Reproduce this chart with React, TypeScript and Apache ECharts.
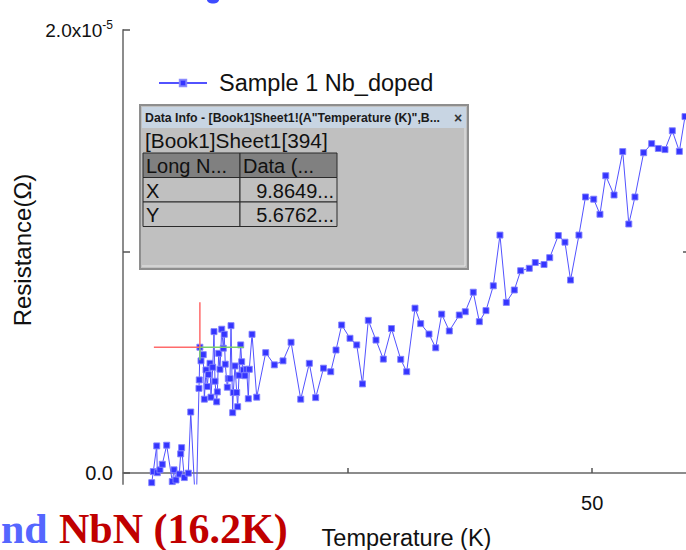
import React, { useEffect, useRef } from "react";
import * as echarts from "echarts";

// Temperature (K)
const temperatureK = [
  4.94, 5.1, 5.45, 5.51, 5.78, 6.02, 6.47, 7.04, 7.22, 7.42, 7.76, 7.9, 8.0, 8.27, 8.68, 8.93,
  9.47, 9.77, 9.8, 9.8649, 9.98, 10.21, 10.32, 10.49, 10.62, 10.73, 10.9, 11.0, 11.18, 11.31,
  11.41, 11.58, 11.65, 11.79, 11.92, 12.1, 12.26, 12.36, 12.46, 12.67, 12.77, 12.95, 13.05,
  13.22, 13.28, 13.46, 13.63, 13.73, 13.87, 14.04, 14.14, 14.31, 14.48, 14.65, 14.82, 14.92,
  15.2, 15.68, 16.6, 17.48, 18.37, 19.19, 20.18, 21.06, 21.71, 22.51, 23.25, 23.79, 24.37,
  25.22, 25.91, 26.5, 27.09, 27.88, 28.63, 29.46, 30.41, 31.02, 31.87, 32.45, 33.3, 33.99,
  34.6, 35.38, 36.4, 37.01, 37.83, 38.45, 39.13, 39.88, 40.56, 41.21, 42.03, 42.68, 43.56,
  44.17, 45.07, 45.65, 46.53, 47.21, 47.78, 48.64, 49.31, 50.15, 50.79, 51.38, 52.23, 53.12,
  53.74, 54.37, 55.26, 56.08, 56.76, 57.44, 58.19, 58.91, 59.49, 60.3,
];

// Resistance, in units of 1e-6 Ω
const resistanceMicroOhm = [
  -0.44, 0.06, 1.22, 0.01, 0.14, 0.39, 1.25, -0.39, 0.14, -0.32, -0.05, 0.86, 1.14, -0.21, -0.01, 2.75,
  -2.0, 3.82, 4.2, 5.6762, 5.06, 5.34, 3.33, 4.65, 3.9, 4.44, 4.95, 3.42, 4.77, 6.38,
  4.14, 3.21, 3.66, 5.4, 4.68, 6.49, 5.63, 6.26, 4.91, 3.87, 4.26, 4.26, 6.65,
  2.72, 3.63, 4.83, 3.63, 2.99, 4.41, 5.78, 5.02, 4.65, 4.39, 4.68, 3.35, 4.68,
  6.26, 3.42, 5.43, 4.88, 5.06, 5.9, 3.33, 4.95, 3.4, 4.73, 4.57, 5.55, 6.68,
  6.08, 5.78, 4.02, 6.89, 6.0, 5.14, 6.52, 5.13, 4.57, 7.44, 6.74, 6.27, 5.65,
  7.17, 6.41, 7.13, 7.28, 8.16, 6.83, 7.33, 8.45, 10.74, 7.7, 8.26, 9.13, 9.24,
  9.5, 9.41, 9.72, 10.72, 10.42, 8.71, 10.74, 12.46, 12.36, 11.68, 13.42, 12.55, 14.51,
  11.24, 12.46, 14.46, 14.87, 14.65, 14.6, 15.45, 14.52, 16.09, 16.7,
];

const seriesName = "Sample 1 Nb_doped";
const cursorPoint = [9.8649, 5.6762];
const cursorRow = 394;
const xTickValues = [25, 50];
const xLabelValues = [50];
const yTickValues = [0, 10, 20];
const yLabelValues = [0, 20];
const yRightTickValues = [10];

const FONT = "'Liberation Sans', Arial, sans-serif";
const SERIF = "'Liberation Serif', 'Times New Roman', serif";

export default function App() {
  const ref = useRef<HTMLDivElement>(null);

  useEffect(() => {
    if (!ref.current) return;
    const chart = echarts.init(ref.current, undefined, { renderer: "svg" });
    const data = temperatureK.map((t, i) => [t, resistanceMicroOhm[i]]);

    const baseOption: any = {
      animation: false,
      backgroundColor: "#ffffff",
      grid: {
        left: 123,
        top: 30,
        width: 567,
        height: 454,
        containLabel: false,
        outerBoundsMode: "none",
      },
      legend: {
        left: 153,
        top: 66,
        itemWidth: 48,
        itemHeight: 8,
        textStyle: { fontSize: 23.5, color: "#111", fontFamily: FONT, padding: [0, 0, 0, 7] },
        data: [seriesName],
      },
      xAxis: [
        {
          type: "value",
          position: "bottom",
          min: 2,
          max: 60,
          name: "Temperature (K)",
          nameLocation: "middle",
          nameGap: 42,
          nameTextStyle: { fontSize: 23.5, color: "#111", fontFamily: FONT },
          axisLine: { lineStyle: { color: "#333", width: 1.5 } },
          axisTick: { inside: true, length: 5, customValues: xTickValues, lineStyle: { color: "#555", width: 1.5 } },
          axisLabel: { customValues: xLabelValues, margin: 9, fontSize: 20, color: "#111", fontFamily: FONT },
          splitLine: { show: false },
        },
        {
          type: "value",
          position: "top",
          min: 2,
          max: 60,
          axisLine: { lineStyle: { color: "#8c8c8c", width: 2 } },
          axisTick: { show: false },
          axisLabel: { show: false },
          splitLine: { show: false },
        },
      ],
      yAxis: [
        {
          type: "value",
          position: "left",
          min: -0.5,
          max: 20,
          name: "Resistance(Ω)",
          nameLocation: "middle",
          nameGap: 86,
          nameTextStyle: { fontSize: 24, color: "#111", fontFamily: FONT, padding: [0, 0, 0, 14] },
          axisLine: { lineStyle: { color: "#8c8c8c", width: 2 } },
          axisTick: { inside: true, length: 7, customValues: yTickValues, lineStyle: { color: "#555", width: 1.5 } },
          axisLabel: {
            customValues: yLabelValues,
            margin: 10,
            fontSize: 20,
            color: "#111",
            fontFamily: FONT,
            formatter: (v: number) => (v === 0 ? "0.0" : `{m|${(v / 10).toFixed(1)}x10}{s|-5}`),
            rich: {
              m: { fontSize: 19, color: "#111", fontFamily: FONT },
              s: { fontSize: 12, color: "#111", fontFamily: FONT, verticalAlign: "top", padding: [0, 0, 10, 0] },
            },
          },
          splitLine: { show: false },
        },
        {
          type: "value",
          position: "right",
          min: -0.5,
          max: 20,
          axisLine: { lineStyle: { color: "#8c8c8c", width: 2 } },
          axisTick: { inside: true, length: 7, customValues: yRightTickValues, lineStyle: { color: "#555", width: 1.5 } },
          axisLabel: { show: false },
          splitLine: { show: false },
        },
      ],
      series: [
        {
          name: seriesName,
          type: "line",
          data,
          xAxisIndex: 0,
          yAxisIndex: 0,
          clip: true,
          symbol: "rect",
          symbolSize: 6,
          showAllSymbol: true,
          lineStyle: { color: "#5252ff", width: 1 },
          itemStyle: { color: "#3535ff", borderColor: "rgba(130,130,255,0.9)", borderWidth: 1 },
          emphasis: { disabled: true },
        },
      ],
    };
    chart.setOption(baseOption);

    const [px, py] = chart.convertToPixel({ gridIndex: 0 }, cursorPoint) as number[];
    const boxX = 140;
    const boxY = 105;
    const boxW = 328;
    const boxH = 164;
    const tblX = 143;
    const tblY = 153;
    const colW = 97;
    const rowH = 24.5;
    const tableFont = `20px ${FONT}`;

    const graphic: any[] = [
      // crosshair on the data cursor
      { type: "line", shape: { x1: px - 46, y1: py, x2: px, y2: py }, style: { stroke: "#ff6b6b", lineWidth: 1.5 }, z: 50 },
      { type: "line", shape: { x1: px, y1: py, x2: px + 44, y2: py }, style: { stroke: "#7ccf6a", lineWidth: 1.5 }, z: 50 },
      { type: "line", shape: { x1: px, y1: py - 45, x2: px, y2: py }, style: { stroke: "#ff6b6b", lineWidth: 1.5 }, z: 50 },
      { type: "line", shape: { x1: px, y1: py, x2: px, y2: py + 13 }, style: { stroke: "#7ccf6a", lineWidth: 1.5 }, z: 50 },
      // Data Info window
      { type: "rect", shape: { x: boxX, y: boxY, width: boxW, height: boxH }, style: { fill: "#c0c0c0", stroke: "#8e8e8e", lineWidth: 2 }, z: 60 },
      { type: "line", shape: { x1: boxX + 2, y1: boxY + boxH - 3, x2: boxX + boxW - 3, y2: boxY + boxH - 3 }, style: { stroke: "#e6e6e6", lineWidth: 1 }, z: 61 },
      { type: "line", shape: { x1: boxX + boxW - 3, y1: boxY + 2, x2: boxX + boxW - 3, y2: boxY + boxH - 3 }, style: { stroke: "#e6e6e6", lineWidth: 1 }, z: 61 },
      { type: "rect", shape: { x: boxX + 2, y: boxY + 2, width: boxW - 4, height: 21 }, style: { fill: "#c8d5e3" }, z: 61 },
      {
        type: "text",
        x: boxX + 5,
        y: boxY + 13,
        style: { text: 'Data Info - [Book1]Sheet1!(A"Temperature (K)",B...', font: `bold 12.3px ${FONT}`, fill: "#1a1a1a", verticalAlign: "middle" },
        z: 62,
      },
      { type: "text", x: boxX + 318, y: boxY + 13, style: { text: "×", font: `bold 14px ${FONT}`, fill: "#333", verticalAlign: "middle", align: "center" }, z: 62 },
      {
        type: "text",
        x: boxX + 5,
        y: boxY + 35,
        style: { text: `[Book1]Sheet1[${cursorRow}]`, font: `20.8px ${FONT}`, fill: "#111", verticalAlign: "middle" },
        z: 62,
      },
      { type: "rect", shape: { x: tblX, y: tblY, width: colW, height: rowH }, style: { fill: "#808080", stroke: "#2a2a2a", lineWidth: 1 }, z: 62 },
      { type: "rect", shape: { x: tblX + colW, y: tblY, width: colW, height: rowH }, style: { fill: "#808080", stroke: "#2a2a2a", lineWidth: 1 }, z: 62 },
      { type: "rect", shape: { x: tblX, y: tblY + rowH, width: colW, height: rowH }, style: { fill: "#c0c0c0", stroke: "#2a2a2a", lineWidth: 1 }, z: 62 },
      { type: "rect", shape: { x: tblX + colW, y: tblY + rowH, width: colW, height: rowH }, style: { fill: "#c0c0c0", stroke: "#2a2a2a", lineWidth: 1 }, z: 62 },
      { type: "rect", shape: { x: tblX, y: tblY + 2 * rowH, width: colW, height: rowH }, style: { fill: "#c0c0c0", stroke: "#2a2a2a", lineWidth: 1 }, z: 62 },
      { type: "rect", shape: { x: tblX + colW, y: tblY + 2 * rowH, width: colW, height: rowH }, style: { fill: "#c0c0c0", stroke: "#2a2a2a", lineWidth: 1 }, z: 62 },
      { type: "text", x: tblX + 3, y: tblY + rowH / 2 + 1, style: { text: "Long N...", font: tableFont, fill: "#111", verticalAlign: "middle" }, z: 63 },
      { type: "text", x: tblX + colW + 3, y: tblY + rowH / 2 + 1, style: { text: "Data (...", font: tableFont, fill: "#111", verticalAlign: "middle" }, z: 63 },
      { type: "text", x: tblX + 3, y: tblY + rowH * 1.5 + 1, style: { text: "X", font: tableFont, fill: "#111", verticalAlign: "middle" }, z: 63 },
      { type: "text", x: tblX + 2 * colW - 3, y: tblY + rowH * 1.5 + 1, style: { text: `${cursorPoint[0].toFixed(4)}...`, font: tableFont, fill: "#111", verticalAlign: "middle", align: "right" }, z: 63 },
      { type: "text", x: tblX + 3, y: tblY + rowH * 2.5 + 1, style: { text: "Y", font: tableFont, fill: "#111", verticalAlign: "middle" }, z: 63 },
      { type: "text", x: tblX + 2 * colW - 3, y: tblY + rowH * 2.5 + 1, style: { text: `${cursorPoint[1].toFixed(4)}...`, font: tableFont, fill: "#111", verticalAlign: "middle", align: "right" }, z: 63 },
      // slide text around the chart
      { type: "text", x: 1, y: 529, style: { text: "nd", font: `bold 42px ${SERIF}`, fill: "#5566ff", verticalAlign: "middle" }, z: 70 },
      { type: "text", x: 59, y: 529, style: { text: "NbN (16.2K)", font: `bold 42px ${SERIF}`, fill: "#c00000", verticalAlign: "middle" }, z: 70 },
      { type: "ellipse", shape: { cx: 213, cy: 0, rx: 6, ry: 3.5 }, style: { fill: "#3d4bff" }, z: 70 },
    ];
    chart.setOption({ graphic });

    return () => chart.dispose();
  }, []);

  return (
    <div
      ref={ref}
      style={{ position: "fixed", left: 0, top: 0, width: 686, height: 550, background: "#fff" }}
    />
  );
}
